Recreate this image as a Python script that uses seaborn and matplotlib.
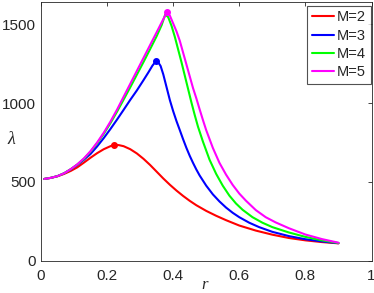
import numpy as np
import pandas as pd
import matplotlib
matplotlib.use("Agg")
import matplotlib.pyplot as plt
import seaborn as sns

# values
r_m2 = [0.01, 0.03, 0.05, 0.07, 0.09, 0.11, 0.13, 0.15, 0.17, 0.19, 0.21, 0.222,
        0.235, 0.25, 0.27, 0.29, 0.31, 0.33, 0.35, 0.37, 0.39, 0.41, 0.43, 0.45,
        0.47, 0.50, 0.53, 0.56, 0.60, 0.65, 0.70, 0.75, 0.80, 0.85, 0.90]
lam_m2 = [518, 525, 535, 550, 569, 592, 622, 653, 682, 707, 726, 734,
          733, 726, 707, 680, 646, 607, 564, 521, 481, 444, 410, 379,
          351, 315, 284, 256, 222, 190, 164, 143, 128, 117, 109]

r_m3 = [0.01, 0.03, 0.05, 0.07, 0.09, 0.11, 0.13, 0.15, 0.17, 0.19, 0.21, 0.23,
        0.25, 0.27, 0.29, 0.31, 0.325, 0.337, 0.3476, 0.355, 0.362, 0.37, 0.38,
        0.39, 0.40, 0.41, 0.42, 0.43, 0.44, 0.45, 0.46, 0.47, 0.48, 0.50, 0.52,
        0.54, 0.56, 0.58, 0.60, 0.63, 0.66, 0.70, 0.75, 0.80, 0.85, 0.90]
lam_m3 = [518, 525, 536, 554, 579, 607, 640, 677, 725, 778, 835, 895,
          957, 1020, 1080, 1145, 1195, 1237, 1266, 1258, 1235, 1182, 1100,
          1018, 948, 885, 828, 770, 715, 665, 620, 578, 540, 475, 420,
          375, 336, 303, 275, 240, 212, 182, 155, 135, 121, 110]

r_m4 = [0.01, 0.03, 0.05, 0.07, 0.09, 0.11, 0.13, 0.15, 0.17, 0.19, 0.21, 0.23,
        0.25, 0.27, 0.29, 0.31, 0.33, 0.35, 0.365, 0.376, 0.385, 0.395, 0.405,
        0.415, 0.425, 0.435, 0.445, 0.455, 0.465, 0.475, 0.49, 0.51, 0.53, 0.55,
        0.57, 0.59, 0.61, 0.64, 0.67, 0.70, 0.75, 0.80, 0.85, 0.90]
lam_m4 = [518, 525, 536, 554, 580, 610, 646, 692, 745, 805, 872, 945,
          1022, 1100, 1180, 1260, 1342, 1425, 1495, 1563, 1545, 1490, 1420,
          1340, 1260, 1175, 1090, 1005, 925, 850, 755, 640, 550, 475,
          412, 362, 322, 275, 240, 212, 178, 150, 128, 111]

r_m5 = [0.01, 0.03, 0.05, 0.07, 0.09, 0.11, 0.13, 0.15, 0.17, 0.19, 0.21, 0.23,
        0.25, 0.27, 0.29, 0.31, 0.33, 0.35, 0.365, 0.375, 0.381, 0.39, 0.40, 0.41,
        0.42, 0.43, 0.44, 0.45, 0.46, 0.47, 0.48, 0.49, 0.50, 0.52, 0.54, 0.56,
        0.58, 0.60, 0.62, 0.65, 0.68, 0.71, 0.75, 0.80, 0.85, 0.90]
lam_m5 = [518, 525, 536, 554, 580, 611, 649, 695, 750, 812, 882, 958,
          1040, 1122, 1204, 1286, 1368, 1450, 1512, 1553, 1580, 1555, 1505, 1455,
          1395, 1320, 1245, 1170, 1095, 1030, 960, 892, 827, 715, 620, 545,
          480, 425, 380, 320, 275, 242, 205, 165, 136, 113]

labels = ["M=2", "M=3", "M=4", "M=5"]
colors = ["#ff0000", "#0000ff", "#00ff00", "#ff00ff"]
show_peak = [True, True, False, True]

xticks = [0, 0.2, 0.4, 0.6, 0.8, 1]
yticks = [0, 500, 1000, 1500]

sns.set_theme(style="white")
plt.rcParams["font.family"] = ["Liberation Sans", "DejaVu Sans"]

series = [(r_m2, lam_m2), (r_m3, lam_m3), (r_m4, lam_m4), (r_m5, lam_m5)]
df = pd.concat(
    [pd.DataFrame({"r": r, "lam": lam, "M": lab}) for (r, lam), lab in zip(series, labels)],
    ignore_index=True,
)

fig = plt.figure(figsize=(3.74, 2.93), dpi=100)
ax = fig.add_axes([41 / 374, 1 - 260.5 / 293, 330.5 / 374, 259 / 293])

sns.lineplot(data=df, x="r", y="lam", hue="M", palette=colors, estimator=None,
             sort=False, linewidth=1.5, ax=ax)

# peak markers
for (r, lam), c, show in zip(series, colors, show_peak):
    if show:
        i = int(np.argmax(lam))
        ax.plot(r[i], lam[i], "o", color=c, markersize=4, zorder=5)

ax.set_xlim(0, 1)
ax.set_ylim(0, 1645)
ax.set_xticks(xticks)
ax.set_xticklabels(["0", "0.2", "0.4", "0.6", "0.8", "1"])
ax.set_yticks(yticks)
ax.tick_params(direction="in", length=3, width=0.6, colors="#262626",
               labelsize=11, top=True, right=True, labelcolor="#262626")
ax.tick_params(axis="x", pad=6)
ax.tick_params(axis="y", pad=4)
for s in ax.spines.values():
    s.set_color("#262626")
    s.set_linewidth(0.6)

ax.set_xlabel("r", family="Liberation Serif", style="italic", fontsize=12, color="#262626")
ax.set_ylabel("λ", family="Liberation Serif", style="italic", fontsize=13,
              rotation=0, color="#262626")
ax.xaxis.set_label_coords((205 - 41) / 330.5, -(285 - 260.5) / 259)
ax.yaxis.set_label_coords(-(41 - 11.5) / 330.5, (260.5 - 139) / 259)
ax.xaxis.label.set_va("center")
ax.yaxis.label.set_va("center")

leg = ax.legend(loc="upper right", bbox_to_anchor=(1 - 1 / 330.5, 1 - 4.5 / 259),
                borderaxespad=0, fontsize=10.5, frameon=True, fancybox=False,
                handlelength=1.55, handletextpad=0.2, labelspacing=0.3,
                borderpad=0.3, title=None)
leg.get_frame().set_edgecolor("#262626")
leg.get_frame().set_linewidth(0.8)
for line in leg.get_lines():
    line.set_linewidth(1.5)

fig.savefig("out.png", dpi=100)
